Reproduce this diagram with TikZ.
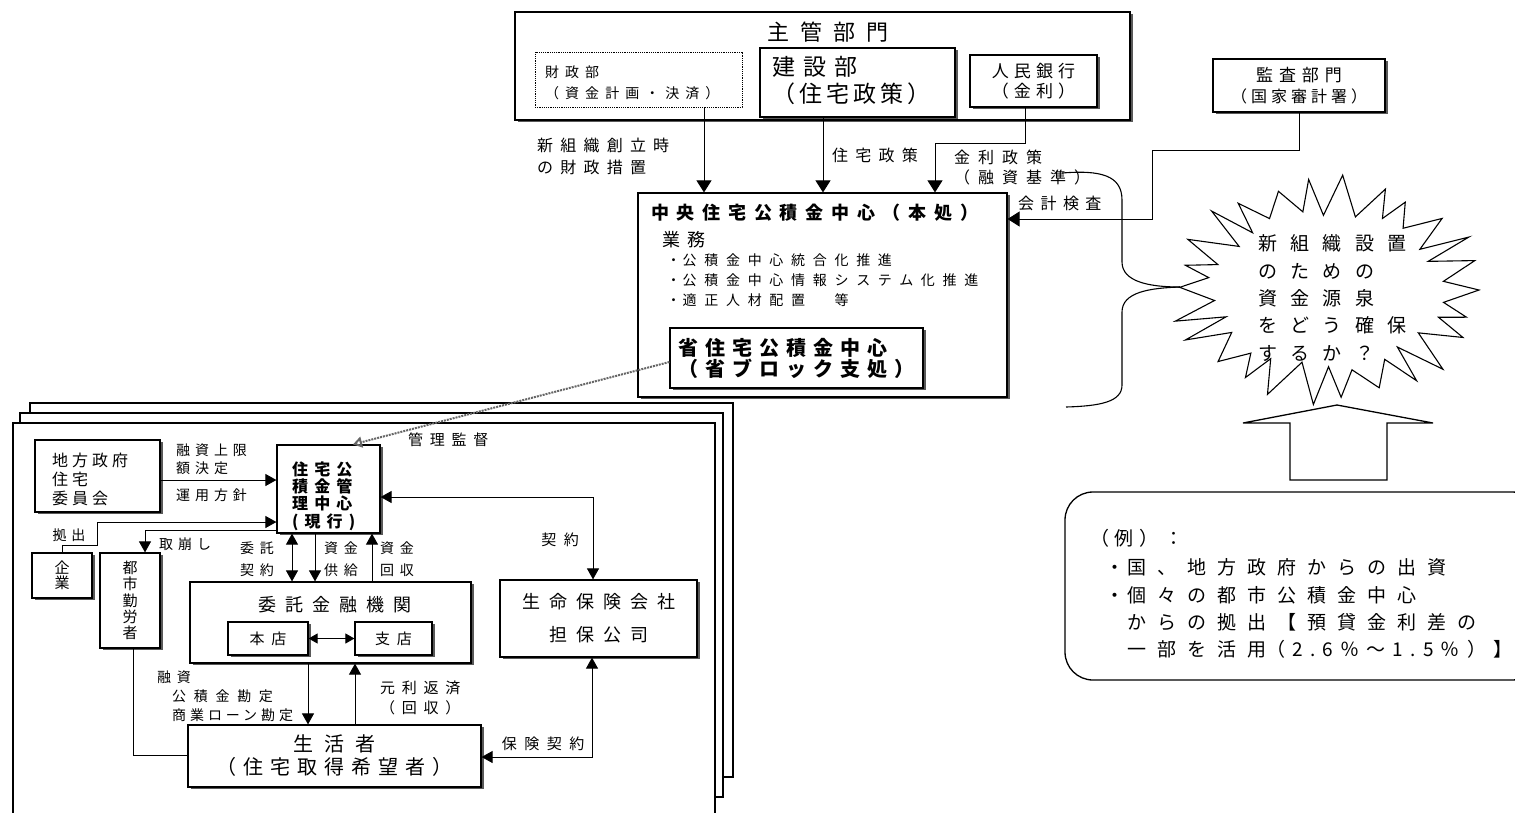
\documentclass[tikz,border=0pt]{standalone}
\usepackage{fontspec}
\setmainfont{Noto Sans CJK JP}
\usetikzlibrary{arrows.meta,shadows}
\newcommand\fs[3]{\fontsize{#1}{#2}\selectfont\addfontfeature{LetterSpace=#3}}
\begin{document}
\begin{tikzpicture}[x=1pt,y=-1pt,
  box/.style={draw, line width=1.2pt, fill=white, inner sep=0pt, align=center},
  sbox/.style={box, drop shadow={shadow xshift=2.5pt, shadow yshift=-1.5pt, fill=black!65, opacity=1}},
  conn/.style={line width=0.9pt},
  tipA/.style={-{Triangle[width=15pt,length=12pt]}},
  tipB/.style={-{Triangle[width=12pt,length=11pt]}},
  tipBB/.style={{Triangle[width=12pt,length=11pt]}-{Triangle[width=12pt,length=11pt]}},
  tipS/.style={{Triangle[width=10pt,length=9pt]}-{Triangle[width=10pt,length=9pt]}},
  lbl/.style={inner sep=0pt, anchor=west, align=left},
  ctr/.style={inner sep=0pt, align=center},
]
\useasboundingbox (0,0) rectangle (1515,812);
\fill[white] (0,0) rectangle (1515,812);

% ---------- stacked pages ----------
\draw[line width=1.1pt, fill=white] (30,403) rectangle (733,777);
\draw[line width=1.1pt, fill=white] (20,413) rectangle (723,797);
\draw[line width=1.1pt, fill=white] (13,423) rectangle (715,830);

% ---------- top group ----------
\node[sbox, minimum width=615, minimum height=108] (mgr) at (822.5,66) {};
\node[ctr, font=\fs{22}{24}{50}] (mgrT) at (828,32) {主管部門};
\node[box, densely dotted, line width=1pt, minimum width=207, minimum height=55] (zaisei) at (638.5,79.5) {};
\node[lbl, font=\fs{14}{21}{43}] (zaiseiT) at (545,82.5) {財政部\\（資金計画・決済）};
\node[sbox, minimum width=195, minimum height=69] (kensetsu) at (857.5,82.5) {};
\node[lbl, font=\fs{23}{27}{35}] (kensetsuT) at (772,80) {建設部\\{\addfontfeature{LetterSpace=18}（住宅政策）}};
\node[sbox, minimum width=127, minimum height=52, font=\fs{17}{20}{30}] (jinmin) at (1033.5,81) {人民銀行\\（金利）};
\node[sbox, minimum width=172, minimum height=53, font=\fs{17}{21}{35}] (kansa) at (1299,85.5) {監査部門\\{\fs{16}{21}{25}（国家審計署）}};

% labels
\node[lbl, font=\fs{16}{22}{45}] (lbA) at (537,156) {新組織創立時\\の財政措置};
\node[lbl, font=\fs{16}{18}{45}] (lbB) at (832,155) {住宅政策};
\node[lbl, font=\fs{16}{20}{50}] (lbC) at (954,167.5) {金利政策\\（融資基準）};
\node[lbl, font=\fs{16}{18}{40}] (lbD) at (1018,203) {会計検査};

% central
\node[sbox, minimum width=369, minimum height=204] (central) at (822.5,295) {};
\node[lbl, font=\bfseries\fs{18}{20}{43}] (centralT) at (651,213) {中央住宅公積金中心（本処）};
\node[lbl, font=\fs{18}{20}{40}] (gyomu) at (662,240) {業務};
\node[lbl, font=\fs{14}{20}{55}] (bullets) at (666.5,280) {\makebox[16pt][l]{・}公積金中心統合化推進\\\makebox[16pt][l]{・}公積金中心情報システム化推進\\\makebox[16pt][l]{・}適正人材配置　等};
\node[sbox, minimum width=253, minimum height=60, font=\bfseries\fs{20}{21}{35}, align=left] (sho) at (796.5,358) {省住宅公積金中心\\（省ブロック支処）};

% top connectors
\draw[conn, tipA] (704,0 |- zaisei.south) -- (704,0 |- central.north);
\draw[conn, tipA] (823,0 |- kensetsu.south) -- (823,0 |- central.north);
\draw[conn, tipA] (1025,0 |- jinmin.south) -- (1025,143) -- (935,143) -- (935,0 |- central.north);
\draw[conn, tipA] (1299,0 |- kansa.south) -- (1299,150) -- (1152,150) -- (1152,219) -- (central.east |- 0,219);

% ---------- starburst ----------
\coordinate (burst) at (1327,290);
\draw[line width=1.1pt, fill=white] plot[samples at={0,...,51}]
  ({1327+ifthenelse(mod(\x,2)==0,152,114)*(1+0.05*sin(\x*137))*cos(\x*6.923+2*sin(\x*71))},
   {290+ifthenelse(mod(\x,2)==0,110,78)*(1+0.05*sin(\x*137))*sin(\x*6.923+2*sin(\x*71))}) -- cycle;
\node[lbl, font=\fs{19}{27.3}{70}] (burstT) at (1258,298) {新組織設置\\のための\\資金源泉\\をどう確保\\するか？};
\coordinate (braceTip) at (1180,287);
\coordinate (braceTop) at (1062,173);
\coordinate (braceBot) at (1066,407);
\draw[line width=1.1pt] (braceTop) .. controls (1100,170) and (1122,175) .. (1122,200) -- (1122,262) .. controls (1122,282) and (1150,287) .. (braceTip);
\draw[line width=1.1pt] (braceTip) .. controls (1150,288) and (1122,292) .. (1122,312) -- (1122,385) .. controls (1122,402) and (1100,406) .. (braceBot);

% block arrow
\draw[line width=1.3pt, fill=white] (1243,423) -- (1337,405) -- (1433,423) -- (1387,423) -- (1387,480) -- (1290,480) -- (1290,423) -- cycle;

% example box
\node[draw, line width=1.3pt, rounded corners=28pt, minimum width=475, minimum height=188, inner sep=0] (ex) at (1302.5,586) {};
\node[lbl, font=\fs{19}{20}{30}] (ex1) at (1090,538) {（例）：};
\node[lbl, font=\fs{19}{20}{58}] (ex2) at (1105,567) {\makebox[22pt][l]{・}国、地方政府からの出資};
\node[lbl, font=\fs{19}{20}{58}] (ex3) at (1105,595) {\makebox[22pt][l]{・}個々の都市公積金中心};
\node[lbl, font=\fs{19}{20}{58}] (ex4) at (1127,622) {からの拠出【預貸金利差の};
\node[lbl, font=\fs{19}{20}{58}] (ex5) at (1127,649) {一部を活用{\addfontfeature{LetterSpace=38}（2.6％～1.5％）】}};

% ---------- lower group ----------
\node[sbox, minimum width=125, minimum height=72] (chiho) at (97.5,476) {};
\node[lbl, font=\fs{16}{19}{25}] (chihoT) at (52,479) {地方政府\\住宅\\委員会};
\node[sbox, minimum width=103, minimum height=88] (jutaku) at (328.5,489) {};
\node[lbl, font=\bfseries\fs{16}{17.3}{38}] (jutakuT) at (292,496) {住宅公\\積金管\\理中心\\(現行)};
\node[lbl, font=\fs{15}{18}{45}] (kanri) at (408,440) {管理監督};
\draw[line width=2pt, black!60, dash pattern=on 2pt off 1pt, -{Triangle[open,width=11pt,length=9pt]}] (sho.west |- 0,362) -- (353,0 |- jutaku.north);

\draw[conn, tipB] (chiho.east |- 0,480) -- (jutaku.west |- 0,480);
\node[lbl, font=\fs{14}{18}{35}] (lbE) at (176,459) {融資上限\\額決定};
\node[lbl, font=\fs{14}{18}{35}] (lbF) at (176,495) {運用方針};

\node[sbox, minimum width=60, minimum height=45, font=\fs{15}{15}{0}] (kigyo) at (62,575.5) {企\\業};
\node[sbox, minimum width=60, minimum height=95, font=\fs{15}{16.3}{0}] (toshi) at (130,600.5) {都\\市\\勤\\労\\者};
\draw[conn, tipB] (kigyo.north) -- (62,545) -- (97,545) -- (97,522) -- (jutaku.west |- 0,522);
\node[ctr, font=\fs{14}{16}{35}] (lbG) at (69,535) {拠出};
\draw[conn, tipB] (jutaku.west |- 0,530) -- (145,530) -- (145,0 |- toshi.north);
\node[lbl, font=\fs{14}{16}{35}] (lbH) at (159,544) {取崩し};

\node[sbox, minimum width=281, minimum height=81] (itaku) at (330.5,622.5) {};
\node[ctr, font=\fs{18}{20}{50}] (itakuT) at (335,605) {委託金融機関};
\node[sbox, minimum width=80, minimum height=33, font=\fs{15}{16}{45}] (honten) at (268,638.5) {本店};
\node[sbox, minimum width=77, minimum height=33, font=\fs{15}{16}{45}] (shiten) at (393.5,638.5) {支店};
\draw[conn, tipS] (honten.east) -- (shiten.west);

\draw[conn, tipBB] (292,0 |- jutaku.south) -- (292,0 |- itaku.north);
\draw[conn, tipB] (315,0 |- jutaku.south) -- (315,0 |- itaku.north);
\draw[conn, tipB] (372,0 |- itaku.north) -- (372,0 |- jutaku.south);
\node[lbl, font=\fs{14}{22}{40}] (lbI) at (240,559) {委託\\契約};
\node[lbl, font=\fs{14}{22}{40}] (lbJ) at (324,559) {資金\\供給};
\node[lbl, font=\fs{14}{22}{40}] (lbK) at (380,559) {資金\\回収};

\node[sbox, minimum width=197, minimum height=77, font=\fs{18}{33}{50}] (seimei) at (598.5,618.5) {生命保険会社\\担保公司};
\draw[conn, tipBB] (jutaku.east |- 0,497) -- (593,497) -- (593,0 |- seimei.north);
\node[ctr, font=\fs{15}{18}{50}] (lbL) at (560,540) {契約};

\node[sbox, minimum width=293, minimum height=62, font=\fs{20}{23}{55}] (seikatsu) at (334.5,756) {生活者\\{\addfontfeature{LetterSpace=35}（住宅取得希望者）}};
\draw[conn, tipB] (308,0 |- itaku.south) -- (308,0 |- seikatsu.north);
\draw[conn, tipB] (355,0 |- seikatsu.north) -- (355,0 |- itaku.south);
\node[lbl, font=\fs{14}{19}{40}] (lbM) at (157,696) {融資\\\hspace*{15pt}{\addfontfeature{LetterSpace=55}公積金勘定}\\\hspace*{15pt}{\addfontfeature{LetterSpace=28}商業ローン勘定}};
\node[lbl, font=\fs{15}{20}{45}] (lbN) at (380,698) {元利返済\\（回収）};
\draw[conn] (133,0 |- toshi.south) -- (133,755) -- (seikatsu.west |- 0,755);
\draw[conn, tipBB] (592,0 |- seimei.south) -- (592,757) -- (seikatsu.east |- 0,757);
\node[ctr, font=\fs{15}{18}{50}] (lbO) at (543,744) {保険契約};
\end{tikzpicture}
\end{document}
